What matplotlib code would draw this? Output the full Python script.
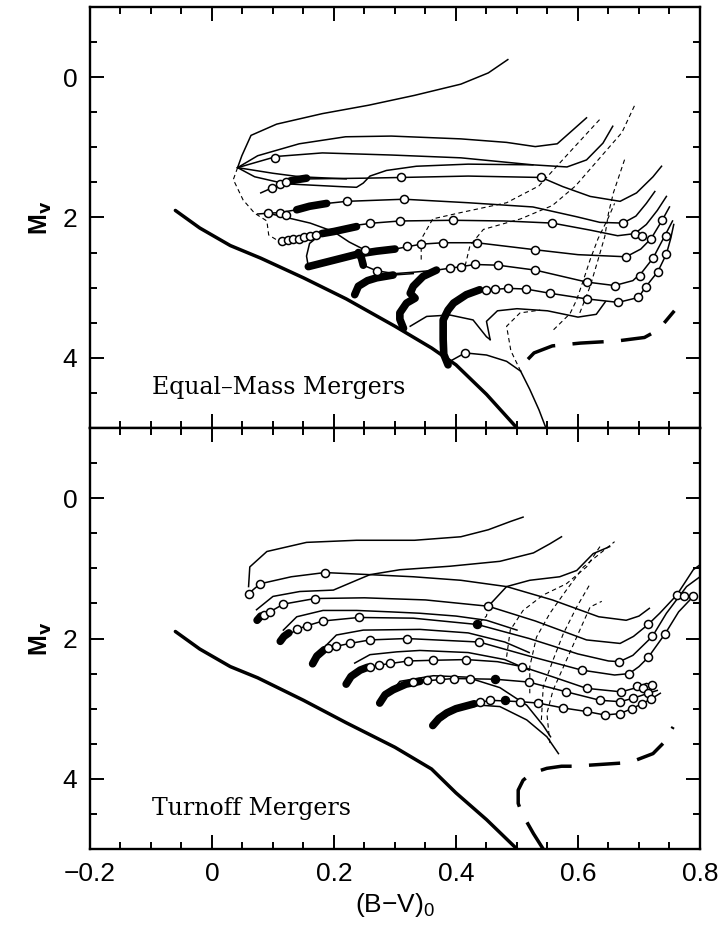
import numpy as np
import matplotlib
matplotlib.use("Agg")
import matplotlib.pyplot as plt
from matplotlib.ticker import MultipleLocator, FuncFormatter

# ---------------- data: top panel (Equal-Mass Mergers) ----------------
zams_top = [(-0.06, 1.90), (-0.02, 2.15), (0.03, 2.40), (0.08, 2.58), (0.15, 2.86),
            (0.22, 3.16), (0.30, 3.55), (0.36, 3.86), (0.40, 4.10), (0.45, 4.52), (0.50, 5.0)]

top_tracks = [
    [(0.042, 1.29), (0.049, 1.12), (0.064, 0.83), (0.106, 0.67), (0.181, 0.52), (0.257, 0.40),
     (0.332, 0.26), (0.408, 0.10), (0.453, -0.06), (0.485, -0.25)],
    [(0.042, 1.29), (0.075, 1.12), (0.143, 0.95), (0.219, 0.85), (0.294, 0.84), (0.408, 0.88),
     (0.483, 0.93), (0.53, 0.99), (0.566, 0.95), (0.592, 0.75), (0.614, 0.58)],
    [(0.042, 1.29), (0.106, 1.13), (0.181, 1.08), (0.294, 1.11), (0.408, 1.15), (0.526, 1.25),
     (0.582, 1.28), (0.614, 1.18), (0.641, 0.94), (0.657, 0.70)],
    [(0.042, 1.29), (0.07, 1.42), (0.12, 1.52), (0.21, 1.56), (0.237, 1.57), (0.248, 1.51),
     (0.259, 1.41), (0.286, 1.33), (0.335, 1.27), (0.42, 1.24), (0.526, 1.25)],
    [(0.042, 1.29), (0.10, 1.37), (0.144, 1.42), (0.22, 1.45)],
    [(0.08, 1.65), (0.098, 1.58), (0.13, 1.49), (0.16, 1.45), (0.25, 1.44), (0.31, 1.43),
     (0.42, 1.41), (0.54, 1.43), (0.575, 1.56), (0.62, 1.70), (0.669, 1.77), (0.696, 1.65),
     (0.723, 1.42), (0.737, 1.27)],
    [(0.075, 1.95), (0.092, 1.94), (0.111, 1.93), (0.139, 1.89), (0.188, 1.80), (0.221, 1.77),
     (0.315, 1.74), (0.42, 1.79), (0.526, 1.85), (0.598, 1.99), (0.636, 2.07), (0.674, 2.08),
     (0.695, 1.98), (0.712, 1.80), (0.726, 1.63)],
    [(0.11, 2.34), (0.15, 2.28), (0.182, 2.22), (0.237, 2.11), (0.264, 2.08), (0.308, 2.05),
     (0.395, 2.04), (0.48, 2.05), (0.558, 2.08), (0.62, 2.18), (0.665, 2.26), (0.693, 2.23),
     (0.712, 2.10), (0.73, 1.90), (0.745, 1.70)],
    [(0.30, 2.45), (0.343, 2.38), (0.379, 2.36), (0.434, 2.36), (0.53, 2.46), (0.60, 2.53),
     (0.679, 2.56), (0.703, 2.45), (0.72, 2.30), (0.738, 2.04), (0.75, 1.85)],
    [(0.368, 2.75), (0.409, 2.70), (0.431, 2.67), (0.469, 2.68), (0.53, 2.75), (0.614, 2.92),
     (0.66, 2.97), (0.69, 2.90), (0.705, 2.78), (0.723, 2.58), (0.740, 2.30), (0.755, 2.05)],
    [(0.439, 3.04), (0.486, 3.01), (0.515, 3.02), (0.554, 3.08), (0.614, 3.16), (0.666, 3.21),
     (0.699, 3.14), (0.711, 2.99), (0.731, 2.77), (0.745, 2.52), (0.752, 2.30), (0.757, 2.10)],
    # connectors and lower branches
    [(0.092, 1.94), (0.117, 1.99), (0.161, 2.08), (0.199, 2.20), (0.225, 2.35), (0.25, 2.46)],
    [(0.158, 2.70), (0.155, 2.55), (0.16, 2.37), (0.177, 2.25)],
    [(0.248, 2.68), (0.27, 2.76), (0.30, 2.80), (0.33, 2.78), (0.368, 2.75)],
    [(0.297, 2.82), (0.33, 2.80)],
    [(0.325, 3.55), (0.352, 3.41), (0.39, 3.39), (0.428, 3.46), (0.45, 3.70), (0.456, 3.74)],
    [(0.456, 3.74), (0.45, 3.48), (0.468, 3.33), (0.50, 3.30), (0.55, 3.33), (0.60, 3.42),
     (0.63, 3.38), (0.645, 3.20)],
    [(0.39, 4.05), (0.415, 3.93), (0.45, 3.96), (0.483, 4.05), (0.506, 4.19)],
    [(0.506, 4.19), (0.521, 4.45), (0.536, 4.74), (0.547, 4.99)],
]

top_isochrones = [
    [(0.042, 1.29), (0.035, 1.46), (0.051, 1.75), (0.07, 1.94), (0.09, 2.05), (0.093, 2.25), (0.11, 2.34)],
    [(0.343, 2.60), (0.343, 2.31), (0.362, 2.02), (0.408, 1.93), (0.483, 1.79), (0.536, 1.55),
     (0.581, 1.12), (0.636, 0.60)],
    [(0.415, 2.69), (0.423, 2.40), (0.445, 2.17), (0.506, 2.02), (0.558, 1.83), (0.596, 1.55),
     (0.634, 1.17), (0.672, 0.79), (0.693, 0.40)],
    [(0.603, 3.36), (0.62, 2.98), (0.633, 2.60), (0.644, 2.27), (0.65, 1.94), (0.658, 1.65), (0.677, 1.16)],
    [(0.56, 3.60), (0.587, 3.37), (0.598, 3.17), (0.609, 2.89), (0.62, 2.60), (0.633, 2.30),
     (0.65, 2.00), (0.66, 1.80)],
    [(0.506, 4.19), (0.49, 3.90), (0.483, 3.55), (0.505, 3.36), (0.538, 3.32)],
]

top_thick = [
    [(0.128, 1.48), (0.14, 1.46), (0.155, 1.44)],
    [(0.139, 1.89), (0.16, 1.84), (0.188, 1.80)],
    [(0.18, 2.23), (0.20, 2.20), (0.237, 2.13)],
    [(0.158, 2.70), (0.19, 2.63), (0.24, 2.52), (0.27, 2.48), (0.30, 2.45)],
    [(0.24, 2.50), (0.245, 2.58), (0.248, 2.68)],
    [(0.234, 3.10), (0.24, 2.98), (0.255, 2.90), (0.27, 2.86), (0.297, 2.82)],
    [(0.314, 3.58), (0.308, 3.45), (0.308, 3.36), (0.319, 3.22), (0.333, 3.15), (0.325, 3.08),
     (0.33, 2.98), (0.346, 2.84), (0.368, 2.75)],
    [(0.387, 4.10), (0.38, 3.95), (0.379, 3.74), (0.379, 3.46), (0.387, 3.32), (0.396, 3.22),
     (0.417, 3.10), (0.439, 3.03)],
]

top_dashed_thick = [(0.518, 4.02), (0.528, 3.93), (0.558, 3.83), (0.604, 3.79), (0.664, 3.76),
                    (0.709, 3.71), (0.732, 3.60), (0.758, 3.33)]

top_circles = [
    (0.103, 1.15), (0.098, 1.58), (0.112, 1.53), (0.122, 1.50), (0.31, 1.43), (0.54, 1.43),
    (0.092, 1.94), (0.111, 1.93), (0.122, 1.96), (0.221, 1.77), (0.315, 1.74), (0.674, 2.08),
    (0.115, 2.33), (0.124, 2.32), (0.133, 2.31), (0.142, 2.30), (0.151, 2.285), (0.16, 2.27),
    (0.17, 2.255), (0.259, 2.08), (0.308, 2.05), (0.395, 2.04),
    (0.558, 2.08), (0.693, 2.23), (0.705, 2.27),
    (0.251, 2.46), (0.27, 2.76), (0.319, 2.41), (0.343, 2.38), (0.379, 2.36), (0.434, 2.36),
    (0.53, 2.46), (0.679, 2.56), (0.72, 2.30), (0.738, 2.04),
    (0.39, 2.72), (0.409, 2.70), (0.431, 2.67), (0.469, 2.68), (0.53, 2.75), (0.614, 2.92),
    (0.66, 2.97), (0.702, 2.84), (0.723, 2.58), (0.744, 2.26),
    (0.45, 3.03), (0.464, 3.02), (0.486, 3.01), (0.515, 3.02), (0.554, 3.08), (0.614, 3.16),
    (0.666, 3.21), (0.699, 3.14), (0.711, 2.99), (0.731, 2.77), (0.745, 2.52), (0.415, 3.93),
]

# ---------------- data: bottom panel (Turnoff Mergers) ----------------
zams_bot = [(-0.06, 1.90), (-0.02, 2.15), (0.03, 2.40), (0.075, 2.56), (0.15, 2.88),
            (0.22, 3.20), (0.30, 3.55), (0.36, 3.86), (0.40, 4.20), (0.45, 4.58), (0.50, 5.0)]

bot_tracks = [
    [(0.06, 1.26), (0.062, 0.98), (0.09, 0.76), (0.155, 0.63), (0.237, 0.60), (0.332, 0.60),
     (0.408, 0.55), (0.453, 0.45), (0.49, 0.33), (0.51, 0.27)],
    [(0.073, 1.59), (0.10, 1.40), (0.144, 1.33), (0.199, 1.31), (0.237, 1.17), (0.259, 1.09),
     (0.308, 1.02), (0.39, 0.97), (0.472, 0.90), (0.527, 0.78), (0.554, 0.65), (0.573, 0.55)],
    [(0.06, 1.36), (0.079, 1.22), (0.13, 1.12), (0.185, 1.06), (0.259, 1.09), (0.33, 1.12),
     (0.408, 1.17), (0.483, 1.26), (0.558, 1.45), (0.634, 1.69), (0.679, 1.74), (0.70, 1.68),
     (0.717, 1.57)],
    [(0.076, 1.71), (0.095, 1.62), (0.117, 1.51), (0.169, 1.43), (0.25, 1.42), (0.35, 1.45),
     (0.453, 1.54), (0.53, 1.75), (0.614, 2.02), (0.669, 2.07), (0.691, 1.97), (0.715, 1.80),
     (0.734, 1.64), (0.762, 1.38), (0.789, 1.02), (0.80, 0.95)],
    [(0.114, 2.02), (0.139, 1.87), (0.155, 1.82), (0.182, 1.75), (0.241, 1.70), (0.33, 1.71),
     (0.435, 1.80), (0.52, 2.00), (0.60, 2.22), (0.65, 2.32), (0.668, 2.33), (0.69, 2.24),
     (0.722, 1.97), (0.745, 1.64), (0.778, 1.26), (0.80, 1.12)],
    [(0.166, 2.35), (0.18, 2.16), (0.204, 2.11), (0.226, 2.07), (0.259, 2.02), (0.319, 2.00),
     (0.438, 2.05), (0.52, 2.25), (0.606, 2.45), (0.66, 2.52), (0.684, 2.50), (0.70, 2.40),
     (0.715, 2.27), (0.743, 1.93), (0.765, 1.62), (0.789, 1.40)],
    [(0.221, 2.64), (0.243, 2.45), (0.273, 2.38), (0.322, 2.32), (0.363, 2.31), (0.417, 2.30),
     (0.468, 2.33), (0.508, 2.40), (0.56, 2.55), (0.614, 2.71), (0.671, 2.76), (0.696, 2.70),
     (0.712, 2.64), (0.725, 2.66)],
    [(0.275, 2.92), (0.297, 2.73), (0.341, 2.61), (0.396, 2.57), (0.464, 2.58), (0.519, 2.62),
     (0.581, 2.76), (0.636, 2.88), (0.669, 2.90), (0.691, 2.85), (0.715, 2.78), (0.73, 2.74)],
    [(0.362, 3.24), (0.40, 3.02), (0.43, 2.93), (0.456, 2.88), (0.505, 2.90), (0.535, 2.92),
     (0.576, 2.99), (0.614, 3.04), (0.644, 3.09), (0.669, 3.07), (0.688, 3.00), (0.705, 2.93),
     (0.72, 2.86), (0.735, 2.78)],
    # upper arcs and lower branches
    [(0.117, 1.88), (0.139, 1.69), (0.182, 1.60), (0.237, 1.60), (0.292, 1.62), (0.341, 1.64),
     (0.40, 1.68), (0.45, 1.74), (0.50, 1.88)],
    [(0.18, 2.16), (0.204, 1.95), (0.248, 1.88), (0.341, 1.87), (0.42, 1.92), (0.48, 2.05), (0.52, 2.20)],
    [(0.234, 2.35), (0.259, 2.23), (0.303, 2.19), (0.341, 2.17), (0.42, 2.20), (0.48, 2.30), (0.52, 2.45)],
    [(0.297, 2.73), (0.308, 2.61), (0.363, 2.53), (0.417, 2.55), (0.472, 2.70), (0.516, 2.95),
     (0.543, 3.24), (0.555, 3.40)],
    [(0.40, 3.02), (0.44, 2.95), (0.472, 2.97), (0.516, 3.16), (0.549, 3.40), (0.568, 3.64)],
    [(0.453, 1.54), (0.483, 1.26), (0.521, 1.17), (0.57, 1.12), (0.598, 1.03), (0.625, 0.79), (0.652, 0.69)],
]

bot_isochrones = [
    [(0.483, 2.26), (0.489, 1.88), (0.51, 1.60), (0.543, 1.38), (0.581, 1.22), (0.614, 0.98), (0.636, 0.69)],
    [(0.521, 2.78), (0.521, 2.40), (0.532, 1.98), (0.554, 1.64), (0.581, 1.31), (0.609, 0.98), (0.66, 0.62)],
    [(0.54, 3.16), (0.543, 2.69), (0.559, 2.31), (0.576, 1.93), (0.598, 1.55), (0.62, 1.22)],
    [(0.554, 3.49), (0.549, 3.07), (0.559, 2.74), (0.581, 2.31), (0.603, 1.88), (0.62, 1.55), (0.639, 1.47)],
    [(0.453, 1.54), (0.45, 1.68), (0.435, 1.80)],
]

bot_thick = [
    [(0.074, 1.74), (0.08, 1.68)],
    [(0.112, 2.04), (0.118, 1.97), (0.126, 1.92)],
    [(0.165, 2.36), (0.172, 2.25), (0.184, 2.16)],
    [(0.22, 2.65), (0.228, 2.54), (0.243, 2.45), (0.255, 2.41)],
    [(0.275, 2.92), (0.284, 2.80), (0.297, 2.73), (0.318, 2.65), (0.341, 2.61)],
    [(0.362, 3.24), (0.372, 3.14), (0.385, 3.06), (0.40, 3.00), (0.43, 2.93)],
]

bot_dashed_thick = [(0.543, 5.0), (0.527, 4.78), (0.508, 4.49), (0.502, 4.35), (0.502, 4.16),
                    (0.51, 4.02), (0.524, 3.92), (0.549, 3.85), (0.573, 3.82), (0.592, 3.82),
                    (0.68, 3.77), (0.696, 3.73), (0.723, 3.64), (0.74, 3.49), (0.756, 3.26)]

bot_circles = [
    (0.06, 1.36), (0.079, 1.22), (0.185, 1.06),
    (0.085, 1.67), (0.095, 1.62), (0.117, 1.51), (0.169, 1.43), (0.453, 1.54), (0.715, 1.80), (0.762, 1.38),
    (0.139, 1.87), (0.155, 1.82), (0.182, 1.75), (0.241, 1.70), (0.668, 2.33), (0.722, 1.97),
    (0.191, 2.13), (0.204, 2.11), (0.226, 2.07), (0.259, 2.02), (0.319, 2.00), (0.438, 2.05),
    (0.606, 2.45), (0.684, 2.50), (0.715, 2.27), (0.743, 1.93), (0.774, 1.40), (0.789, 1.40),
    (0.259, 2.40), (0.273, 2.38), (0.292, 2.35), (0.322, 2.32), (0.363, 2.31), (0.417, 2.30),
    (0.508, 2.40), (0.614, 2.71), (0.671, 2.76), (0.696, 2.68), (0.707, 2.71), (0.721, 2.66),
    (0.33, 2.62), (0.352, 2.59), (0.374, 2.58), (0.396, 2.57), (0.423, 2.57), (0.519, 2.62),
    (0.581, 2.76), (0.636, 2.88), (0.669, 2.90), (0.691, 2.85), (0.715, 2.78),
    (0.439, 2.90), (0.456, 2.88), (0.505, 2.90), (0.535, 2.92), (0.576, 2.99), (0.614, 3.04),
    (0.644, 3.09), (0.669, 3.07), (0.688, 3.00), (0.705, 2.93), (0.72, 2.86),
]
bot_filled = [(0.435, 1.80), (0.464, 2.58), (0.48, 2.88)]

panel_labels = ["Equal\u2013Mass Mergers", "Turnoff Mergers"]
x_ticks = [-0.2, 0.0, 0.2, 0.4, 0.6, 0.8]


def xy(pts):
    a = np.array(pts)
    return a[:, 0], a[:, 1]


def draw_panel(ax, zams, tracks, isos, thick, dthick, circles, filled, label):
    ax.plot(*xy(zams), color="black", lw=2.5, solid_capstyle="round")
    for t in tracks:
        ax.plot(*xy(t), color="black", lw=1.1)
    for t in isos:
        ax.plot(*xy(t), color="black", lw=0.8, dashes=(4, 3))
    for t in thick:
        ax.plot(*xy(t), color="black", lw=5.5, solid_capstyle="round", solid_joinstyle="round")
    ax.plot(*xy(dthick), color="black", lw=2.5, dashes=(9, 5))
    cx, cy = xy(circles)
    ax.plot(cx, cy, "o", ms=5.8, mfc="white", mec="black", mew=1.1)
    if filled:
        fx, fy = xy(filled)
        ax.plot(fx, fy, "o", ms=5.8, mfc="black", mec="black")
    ax.text(-0.098, 4.42, label, family="DejaVu Serif", fontsize=17, va="center", ha="left")

    ax.set_xlim(-0.2, 0.8)
    ax.set_ylim(5, -1)
    ax.xaxis.set_major_locator(MultipleLocator(0.2))
    ax.xaxis.set_minor_locator(MultipleLocator(0.05))
    ax.yaxis.set_major_locator(MultipleLocator(2))
    ax.yaxis.set_minor_locator(MultipleLocator(0.5))
    ax.tick_params(which="both", direction="in", top=True, right=True, width=1.4)
    ax.tick_params(which="major", length=10, labelsize=19, pad=9)
    ax.tick_params(which="minor", length=5)
    for s in ax.spines.values():
        s.set_linewidth(1.7)
    ax.set_ylabel("M$_{\\mathbf{v}}$", fontsize=18, fontweight="bold", labelpad=6)
    ax.yaxis.set_major_formatter(FuncFormatter(lambda v, p: "%d" % v))


plt.rcParams["font.family"] = ["Liberation Sans", "DejaVu Sans"]
plt.rcParams["mathtext.default"] = "bf"
fig = plt.figure(figsize=(7.18, 9.27), dpi=100)
ax1 = fig.add_axes([0.1253, 0.5383, 0.8496, 0.4542])
ax2 = fig.add_axes([0.1253, 0.0841, 0.8496, 0.4542])

draw_panel(ax1, zams_top, top_tracks, top_isochrones, top_thick, top_dashed_thick,
           top_circles, None, panel_labels[0])
draw_panel(ax2, zams_bot, bot_tracks, bot_isochrones, bot_thick, bot_dashed_thick,
           bot_circles, bot_filled, panel_labels[1])

ax1.tick_params(labelbottom=False)
ax2.set_xticks(x_ticks)
ax2.xaxis.set_major_formatter(FuncFormatter(lambda v, p: "0" if abs(v) < 1e-9 else ("%.1f" % v).replace("-", "\u2212")))
ax2.set_xlabel("(B\u2212V)$_\\mathregular{0}$", fontsize=19, labelpad=4)

fig.savefig("out.png", dpi=100)
